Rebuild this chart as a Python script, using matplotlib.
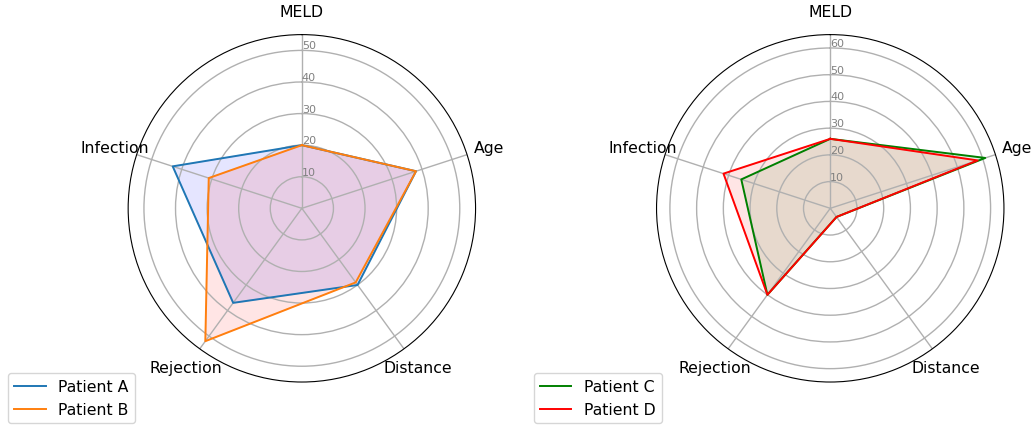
import numpy as np
import matplotlib
matplotlib.use("Agg")
import matplotlib.pyplot as plt

categories = ["MELD", "Age", "Distance", "Rejection", "Infection"]

patient_a = [20, 38, 30, 37, 43]
patient_b = [20, 38, 29, 52, 31]
patient_c = [26, 61, 4, 40, 35]
patient_d = [26, 58, 4, 40, 42]

left_ticks = [10, 20, 30, 40, 50]
right_ticks = [10, 20, 30, 40, 50, 60]

LABEL_SIZE = 11.3
TICK_SIZE = 8


def radar(ax, series, rmax, ticks):
    n = len(categories)
    angles = np.linspace(0, 2 * np.pi, n, endpoint=False).tolist()
    angles += angles[:1]
    ax.set_theta_offset(np.pi / 2)
    ax.set_theta_direction(-1)
    for vals, lc, fc, lab in series:
        v = list(vals) + vals[:1]
        ax.plot(angles, v, color=lc, linewidth=1.4, label=lab)
        ax.fill(angles, v, color=fc, alpha=0.1)
    ax.set_xticks(angles[:-1])
    ax.set_xticklabels(categories, fontsize=LABEL_SIZE)
    ax.tick_params(axis="x", pad=6)
    ax.set_ylim(0, rmax)
    ax.set_rlabel_position(0)
    ax.set_yticks(ticks)
    ax.set_yticklabels([str(t) for t in ticks], color="grey", fontsize=TICK_SIZE)
    ax.grid(color="#b0b0b0", linewidth=1.0)


fig = plt.figure(figsize=(10.32, 4.27), dpi=100)
ax1 = fig.add_axes([0.124, 0.103, 0.337, 0.8136], projection="polar")
ax2 = fig.add_axes([0.636, 0.103, 0.337, 0.8136], projection="polar")

radar(ax1, [(patient_a, "tab:blue", "b", "Patient A"),
            (patient_b, "tab:orange", "r", "Patient B")], 55, left_ticks)
radar(ax2, [(patient_c, "green", "green", "Patient C"),
            (patient_d, "red", "red", "Patient D")], 65, right_ticks)

ax1.legend(loc="upper left", bbox_to_anchor=(0.0078, 0.124),
           bbox_transform=fig.transFigure, borderaxespad=0, fontsize=LABEL_SIZE)
ax2.legend(loc="upper left", bbox_to_anchor=(0.517, 0.124),
           bbox_transform=fig.transFigure, borderaxespad=0, fontsize=LABEL_SIZE)

fig.savefig("out.png", dpi=100)
